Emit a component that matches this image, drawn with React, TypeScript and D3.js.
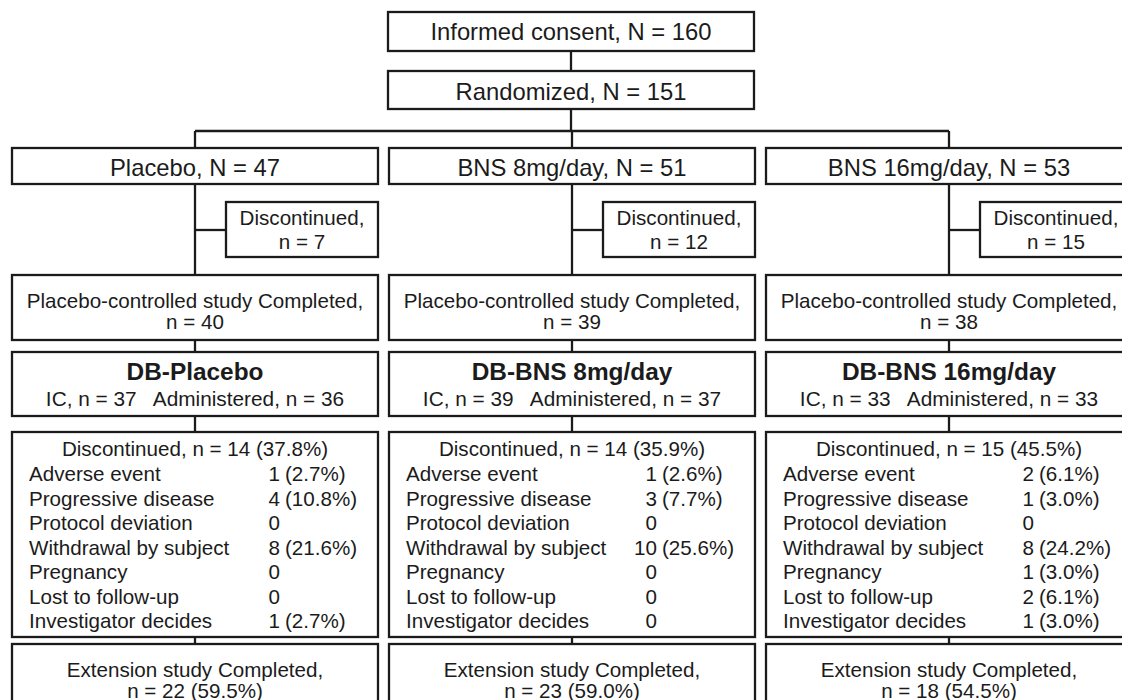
import * as d3 from 'd3'

const arms = ['Placebo', 'BNS 8mg/day', 'BNS 16mg/day']
const armN = [47, 51, 53]
const earlyDisc = [7, 12, 15]
const pcsDone = [40, 39, 38]
const dbTitles = ['DB-Placebo', 'DB-BNS 8mg/day', 'DB-BNS 16mg/day']
const icN = [37, 39, 33]
const adminN = [36, 37, 33]
const dbDiscN = [14, 14, 15]
const dbDiscPct = [37.8, 35.9, 45.5]
const reasons = [
  'Adverse event',
  'Progressive disease',
  'Protocol deviation',
  'Withdrawal by subject',
  'Pregnancy',
  'Lost to follow-up',
  'Investigator decides',
]
const reasonN = [
  [1, 4, 0, 8, 0, 0, 1],
  [1, 3, 0, 10, 0, 0, 0],
  [2, 1, 0, 8, 1, 2, 1],
]
const reasonPct = [
  [2.7, 10.8, 0, 21.6, 0, 0, 2.7],
  [2.6, 7.7, 0, 25.6, 0, 0, 0],
  [6.1, 3.0, 0, 24.2, 3.0, 6.1, 3.0],
]
const extN = [22, 23, 18]
const extPct = [59.5, 59.0, 54.5]
const consentN = 160
const randomizedN = 151

const W = 1122
const H = 700
const INK = '#1b1b1b'
const FONT = '"Liberation Sans", Arial, Helvetica, sans-serif'
const BIG = 23.8
const SMALL = 20.6
const SW = 2.3

// vertical layout of the rows (box tops / bottoms)
const Y = {
  consent: [12, 51],
  rand: [71, 109],
  split: 131,
  arm: [148, 184],
  disc: [202, 257],
  discLink: 230,
  pcs: [275, 340],
  db: [352, 416],
  list: [432, 637],
  ext: [644, 720],
}

const x = d3.scaleBand<string>().domain(arms).range([12, 1132]).paddingInner(0.0292)
const bw = x.bandwidth()
const mid = (a: string) => (x(a) as number) + bw / 2
const topX = d3.scaleLinear().domain([0, 1]).range([388, 388 + bw])

function Box({ x0, y0, x1, y1 }: { x0: number; y0: number; y1: number; x1: number }) {
  return <rect x={x0} y={y0} width={x1 - x0} height={y1 - y0} fill="#fff" stroke={INK} strokeWidth={SW} />
}

function Line({ x1, y1, x2, y2 }: { x1: number; y1: number; x2: number; y2: number }) {
  return <line x1={x1} y1={y1} x2={x2} y2={y2} stroke={INK} strokeWidth={SW} />
}

const fmt = (v: number) => v.toFixed(1)

export default function App() {
  const topMid = (topX(0) + topX(1)) / 2
  return (
    <div>
      <style>{'body{margin:0;background:#fff}'}</style>
      <svg width={W} height={H} style={{ display: 'block', fontFamily: FONT }} fill={INK}>
        {/* trunk */}
        <Line x1={topMid} y1={Y.consent[1]} x2={topMid} y2={Y.rand[0]} />
        <Line x1={topMid} y1={Y.rand[1]} x2={topMid} y2={Y.split} />
        <Line x1={mid(arms[0])} y1={Y.split} x2={mid(arms[arms.length - 1])} y2={Y.split} />
        <Box x0={topX(0)} x1={topX(1)} y0={Y.consent[0]} y1={Y.consent[1]} />
        <text x={topMid} y={40} textAnchor="middle" fontSize={BIG}>
          Informed consent, N = {consentN}
        </text>
        <Box x0={topX(0)} x1={topX(1)} y0={Y.rand[0]} y1={Y.rand[1]} />
        <text x={topMid} y={100} textAnchor="middle" fontSize={BIG}>
          Randomized, N = {randomizedN}
        </text>

        {arms.map((a, i) => {
          const L = x(a) as number
          const R = L + bw
          const c = mid(a)
          const dL = L + 214
          const dc = (dL + R) / 2
          const valX = L + 268
          return (
            <g key={a}>
              <Line x1={c} y1={Y.split} x2={c} y2={Y.arm[0]} />
              <Line x1={c} y1={Y.arm[1]} x2={c} y2={Y.pcs[0]} />
              <Line x1={c} y1={Y.discLink} x2={dL} y2={Y.discLink} />
              <Line x1={c} y1={Y.pcs[1]} x2={c} y2={Y.db[0]} />
              <Line x1={c} y1={Y.db[1]} x2={c} y2={Y.list[0]} />
              <Line x1={c} y1={Y.list[1]} x2={c} y2={Y.ext[0]} />

              <Box x0={L} x1={R} y0={Y.arm[0]} y1={Y.arm[1]} />
              <text x={c} y={176} textAnchor="middle" fontSize={BIG}>
                {a}, N = {armN[i]}
              </text>

              <Box x0={dL} x1={R} y0={Y.disc[0]} y1={Y.disc[1]} />
              <text x={dc} y={225} textAnchor="middle" fontSize={SMALL}>Discontinued,</text>
              <text x={dc} y={249} textAnchor="middle" fontSize={SMALL}>n = {earlyDisc[i]}</text>

              <Box x0={L} x1={R} y0={Y.pcs[0]} y1={Y.pcs[1]} />
              <text x={c} y={308} textAnchor="middle" fontSize={SMALL}>Placebo-controlled study Completed,</text>
              <text x={c} y={329} textAnchor="middle" fontSize={SMALL}>n = {pcsDone[i]}</text>

              <Box x0={L} x1={R} y0={Y.db[0]} y1={Y.db[1]} />
              <text x={c} y={380} textAnchor="middle" fontSize={24.4} fontWeight="bold">
                {dbTitles[i]}
              </text>
              <text x={c} y={406} textAnchor="middle" fontSize={20.8} style={{ whiteSpace: 'pre' }}>
                {`IC, n = ${icN[i]}   Administered, n = ${adminN[i]}`}
              </text>

              <Box x0={L} x1={R} y0={Y.list[0]} y1={Y.list[1]} />
              <text x={c} y={456} textAnchor="middle" fontSize={SMALL}>
                Discontinued, n = {dbDiscN[i]} ({fmt(dbDiscPct[i])}%)
              </text>
              {reasons.map((r, j) => {
                const yy = 481 + j * 24.5
                const n = reasonN[i][j]
                return (
                  <g key={r} fontSize={SMALL}>
                    <text x={L + 17} y={yy}>{r}</text>
                    <text x={valX} y={yy} textAnchor="end">{n}</text>
                    {n > 0 && <text x={valX + 5} y={yy}>({fmt(reasonPct[i][j])}%)</text>}
                  </g>
                )
              })}

              <Box x0={L} x1={R} y0={Y.ext[0]} y1={Y.ext[1]} />
              <text x={c} y={677} textAnchor="middle" fontSize={SMALL}>Extension study Completed,</text>
              <text x={c} y={698} textAnchor="middle" fontSize={SMALL}>
                n = {extN[i]} ({fmt(extPct[i])}%)
              </text>
            </g>
          )
        })}
      </svg>
    </div>
  )
}
